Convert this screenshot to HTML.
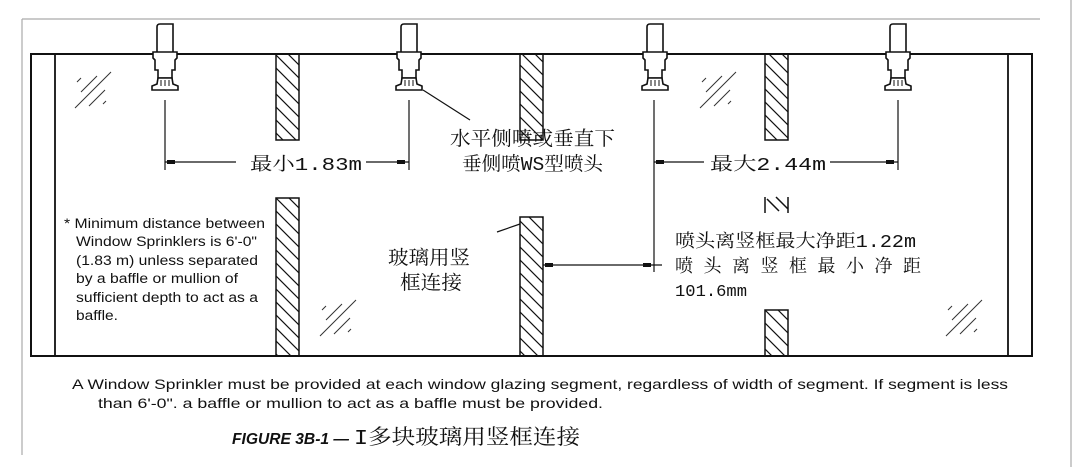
<!DOCTYPE html>
<html><head><meta charset="utf-8"><style>
html,body{margin:0;padding:0;background:#fff;}
svg{display:block}
text{font-family:"Liberation Mono","Noto Serif CJK SC","Noto Sans CJK SC",serif;fill:#111}
.s{font-family:"Liberation Sans",Arial,sans-serif}
</style></head><body>
<svg width="1072" height="467" viewBox="0 0 1072 467" xmlns="http://www.w3.org/2000/svg">
<defs>
<pattern id="h" patternUnits="userSpaceOnUse" width="13" height="13">
<path d="M-3,-3 L16,16 M-3,10 L3,16 M10,-3 L16,3" stroke="#111" stroke-width="1.2"/>
</pattern>
<g id="sp" fill="#fff" stroke="#111" stroke-width="1.6">
<path d="M-8,52 L-8,27 Q-8,24 -5,24 L8,24 L8,52"/>
<path d="M-12,52 L12,52 L12,58 L10,60 L10,70 L7,70 L7,78 L-7,78 L-7,70 L-10,70 L-10,60 L-12,58 Z"/>
<path d="M-7,78 L7,78 L8,84 L13,86 L13,90 L-13,90 L-13,86 L-8,84 Z"/>
<path d="M-4,80 L-4,86 M0,80 L0,86 M4,80 L4,86" stroke-width="1"/>
</g>
<g id="gl" stroke="#333" stroke-width="1">
<path d="M0,36 L36,0 M6,20 L22,4 M14,34 L30,18 M2,10 L6,6 M28,32 L31,29"/>
</g>
</defs>
<path d="M22,19 L1040,19 M22,19 L22,455 M1071,0 L1071,467" stroke="#aaa" stroke-width="1.2" fill="none"/>
<rect x="31" y="54" width="1001" height="302" fill="none" stroke="#111" stroke-width="2"/>
<line x1="55" y1="54" x2="55" y2="356" stroke="#111" stroke-width="1.8"/>
<line x1="1008" y1="54" x2="1008" y2="356" stroke="#111" stroke-width="1.8"/>
<g stroke="#111" stroke-width="1.5" fill="url(#h)">
<rect x="276" y="54" width="23" height="86"/>
<rect x="276" y="198" width="23" height="158"/>
<rect x="520" y="54" width="23" height="86"/>
<rect x="520" y="217" width="23" height="139"/>
<rect x="765" y="54" width="23" height="86"/>
<rect x="765" y="310" width="23" height="46"/>
</g>
<g stroke="#111" stroke-width="1.5" fill="none">
<path d="M765,197 L765,213 M788,197 L788,213 M767,199 L779,211 M776,197 L788,209"/>
</g>
<use href="#gl" x="75" y="72"/>
<use href="#gl" x="700" y="72"/>
<use href="#gl" x="320" y="300"/>
<use href="#gl" x="946" y="300"/>
<use href="#sp" x="165" y="0"/>
<use href="#sp" x="409" y="0"/>
<use href="#sp" x="655" y="0"/>
<use href="#sp" x="898" y="0"/>
<g stroke="#111" stroke-width="1.2" fill="none">
<path d="M165,100 L165,170 M409,100 L409,170 M654,100 L654,272 M898,100 L898,170"/>
<path d="M165,162 L236,162 M248,162 L409,162 M654,162 L704,162 M830,162 L898,162"/>
<path d="M543,265 L662,265"/>
<path d="M423,90 L470,120 M497,232 L520,224"/>
</g>
<g fill="#111">
<rect x="167" y="160" width="8" height="4"/><rect x="397" y="160" width="8" height="4"/>
<rect x="656" y="160" width="8" height="4"/><rect x="886" y="160" width="8" height="4"/>
<rect x="545" y="263" width="8" height="4"/><rect x="643" y="263" width="8" height="4"/>
</g>
<rect x="240" y="150" width="126" height="24" fill="#fff"/>
<rect x="705" y="150" width="124" height="24" fill="#fff"/>
<text x="250" y="170" font-size="18" textLength="112" lengthAdjust="spacingAndGlyphs">最小1.83m</text>
<text x="710" y="170" font-size="18" textLength="116" lengthAdjust="spacingAndGlyphs">最大2.44m</text>
<text x="450" y="145" font-size="19.5" textLength="165" lengthAdjust="spacingAndGlyphs">水平侧喷或垂直下</text>
<text x="462" y="170" font-size="19" textLength="141" lengthAdjust="spacingAndGlyphs">垂侧喷WS型喷头</text>
<text x="388" y="264" font-size="19.5" textLength="82" lengthAdjust="spacingAndGlyphs">玻璃用竖</text>
<text x="400" y="289" font-size="19.5" textLength="62" lengthAdjust="spacingAndGlyphs">框连接</text>
<text x="675" y="247" font-size="18" textLength="241" lengthAdjust="spacingAndGlyphs">喷头离竖框最大净距1.22m</text>
<text x="675" y="272" font-size="18" textLength="246" lengthAdjust="spacing">喷头离竖框最小净距</text>
<text x="675" y="296" font-size="17" textLength="72" lengthAdjust="spacingAndGlyphs">101.6mm</text>
<g font-size="13.5">
<text class="s" x="64" y="228" textLength="201" lengthAdjust="spacingAndGlyphs">* Minimum distance between</text>
<text class="s" x="76" y="246" textLength="181" lengthAdjust="spacingAndGlyphs">Window Sprinklers is 6'-0"</text>
<text class="s" x="76" y="265" textLength="182" lengthAdjust="spacingAndGlyphs">(1.83 m) unless separated</text>
<text class="s" x="76" y="283" textLength="162" lengthAdjust="spacingAndGlyphs">by a baffle or mullion of</text>
<text class="s" x="76" y="302" textLength="182" lengthAdjust="spacingAndGlyphs">sufficient depth to act as a</text>
<text class="s" x="76" y="320" textLength="42" lengthAdjust="spacingAndGlyphs">baffle.</text>
</g>
<text class="s" x="72" y="389" font-size="14" textLength="936" lengthAdjust="spacingAndGlyphs">A Window Sprinkler must be provided at each window glazing segment, regardless of width of segment. If segment is less</text>
<text class="s" x="98" y="408" font-size="14" textLength="505" lengthAdjust="spacingAndGlyphs">than 6'-0". a baffle or mullion to act as a baffle must be provided.</text>
<text class="s" x="232" y="444" font-size="15.5" font-weight="bold" font-style="italic" textLength="117" lengthAdjust="spacingAndGlyphs">FIGURE 3B-1 —</text>
<text x="354" y="444" font-size="21" textLength="226" lengthAdjust="spacingAndGlyphs">I多块玻璃用竖框连接</text>
</svg>
</body></html>
